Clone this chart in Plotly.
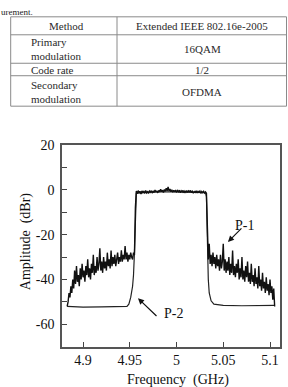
import plotly.graph_objects as go

W, H = 288, 387

# ---------------- data ----------------
f_start = 4.883
f_step = 0.001
p1_values = [
    -52, -50, -46, -48, -43, -46, -40, -44, -36, -42,
    -34, -41, -38, -43, -35, -40, -33, -39, -36, -41,
    -34, -38, -31, -39, -35, -40, -33, -37, -29, -38,
    -34, -37, -30, -36, -33, -26, -36, -32, -37, -30,
    -35, -32, -36, -28, -34, -31, -35, -27, -34, -30,
    -33, -29, -34, -31, -28, -33, -30, -32, -27, -32,
    -29, -31, -25, -31, -28, -32, -29, -31, -28, -30,
    -31, -28, -29, -8, -0.5, -1.6, -0.3, -1.2, -0.6, -1.8,
    -0.4, -1.1, -0.7, -1.5, -0.2, -1.3, -0.8, -1.6, -0.5, -1.0,
    -0.3, -1.4, -0.6, -1.2, 0.0, -1.0, -0.4, -1.3, -0.2, -0.9,
    0.3, -0.8, -0.1, -1.1, 0.2, -0.6, 0.8, -0.4, 1.4, -0.5,
    0.4, -0.8, 0.1, -1.0, -0.2, -0.9, 0.0, -1.1, -0.3, -0.8,
    -0.1, -1.2, -0.4, -0.9, -0.2, -1.3, -0.5, -1.0, -0.3, -1.1,
    -0.4, -0.8, -0.2, -1.2, -0.6, -1.4, -0.7, -1.1, -0.4, -1.3,
    -0.6, -1.0, -0.5, -1.5, -0.7, -1.2, -0.6, -1.4, -0.9, -1.5,
    -24, -31, -24, -33, -29, -34, -28, -33, -30, -35,
    -29, -34, -31, -36, -29, -35, -32, -24, -36, -31,
    -37, -32, -36, -30, -38, -33, -37, -27, -38, -34,
    -39, -33, -37, -31, -40, -35, -39, -30, -40, -36,
    -41, -34, -39, -32, -41, -37, -42, -33, -41, -38,
    -43, -35, -42, -39, -44, -34, -43, -40, -45, -37,
    -44, -41, -46, -39, -45, -42, -47, -40, -46, -43,
    -49, -44, -52,
]
p1_freq = [round(f_start + i * f_step, 3) for i in range(len(p1_values))]

p2_freq = [4.883, 4.900, 4.920, 4.940, 4.947, 4.949, 4.951, 4.953, 4.954,
           4.955, 4.956, 4.957, 4.970, 4.990, 5.010, 5.031, 5.032, 5.033,
           5.034, 5.035, 5.037, 5.040, 5.050, 5.070, 5.090, 5.105]
p2_values = [-52, -52.3, -52.2, -52.3, -52, -51, -48, -43, -38,
             -28, -14, -1.5, -1.0, -0.8, -1.0, -1.2, -3, -25,
             -40, -46, -49.5, -51, -51.5, -51.7, -51.6, -51.5]

x_tick_vals = [4.9, 4.95, 5.0, 5.05, 5.1]
x_tick_text = ["4.9", "4.95", "5", "5.05", "5.1"]
y_tick_vals = [20, 0, -20, -40, -60]
y_tick_text = ["20", "0", "-20", "-40", "-60"]

table_header = ["Method", "Extended IEEE 802.16e-2005"]
table_params = ["Primary<br>modulation", "Code rate", "Secondary<br>modulation"]
table_values = ["16QAM", "1/2", "OFDMA"]

# ---------------- helpers ----------------
def px(x):
    return x / W

def py(y):
    return 1 - y / H

FONT = "'Liberation Serif', 'Times New Roman', Times, serif"
LINE = "#222222"

fig = go.Figure()
fig.add_trace(go.Scatter(x=p2_freq, y=p2_values, mode="lines",
                         line=dict(color=LINE, width=1.2), showlegend=False))
fig.add_trace(go.Scatter(x=p1_freq, y=p1_values, mode="lines",
                         line=dict(color="#111111", width=1.4), showlegend=False))

# plot area
x0p, x1p, y0p, y1p = 62, 280, 140.7, 346

axis_common = dict(showline=True, mirror=True, linecolor="#555555", linewidth=1.5,
                   ticks="inside", ticklen=5, tickcolor="#444444", tickwidth=1,
                   showgrid=False, zeroline=False,
                   tickfont=dict(family=FONT, size=14, color="#111111"))

fig.update_xaxes(range=[4.8775, 5.1107], domain=[px(x0p), px(x1p)],
                 tickvals=x_tick_vals, ticktext=x_tick_text, **axis_common)
fig.update_yaxes(range=[-70, 20], domain=[py(y1p), py(y0p)],
                 tickvals=y_tick_vals, ticktext=y_tick_text,
                 minor=dict(tickvals=[10, -10, -30, -50], ticks="inside", ticklen=5,
                            tickcolor="#444444"),
                 ticklabelstandoff=3, **axis_common)

annotations = []
# axis titles
annotations.append(dict(text="Frequency\u00a0 (GHz)", x=px(178), y=py(380), xref="paper", yref="paper",
                        showarrow=False, xanchor="center", yanchor="middle",
                        font=dict(family=FONT, size=14, color="#111111")))
annotations.append(dict(text="Amplitude\u00a0 (dBr)", x=px(26), y=py(238.5), xref="paper", yref="paper",
                        showarrow=False, textangle=-90, xanchor="center", yanchor="middle",
                        font=dict(family=FONT, size=14, color="#111111")))
# P labels and arrows
annotations.append(dict(text="P-1", x=px(256), y=py(222.5), xref="paper", yref="paper",
                        showarrow=False, font=dict(family=FONT, size=14, color="#111111")))
annotations.append(dict(text="", x=5.055, y=-23.2, xref="x", yref="y", ax=15, ay=-15,
                        showarrow=True, arrowhead=2, arrowsize=1, arrowwidth=1.2,
                        arrowcolor="#111111"))
annotations.append(dict(text="P-2", x=px(173), y=py(322), xref="paper", yref="paper",
                        showarrow=False, font=dict(family=FONT, size=14, color="#111111")))
annotations.append(dict(text="", x=4.9588, y=-48.4, xref="x", yref="y", ax=20, ay=19,
                        showarrow=True, arrowhead=2, arrowsize=1, arrowwidth=1.2,
                        arrowcolor="#111111"))

# text fragment at the top
annotations.append(dict(text="urement.", x=px(0), y=py(-1), xref="paper", yref="paper",
                        showarrow=False, xanchor="left", yanchor="top", borderpad=0,
                        font=dict(family=FONT, size=9, color="#222222")))

# table
tx0, tx1, tcol = 10.7, 286.5, 117
row_lines = [10, 28.3, 57.3, 70, 101]
shapes = []
TCOL = "#8a8a8a"
for yl in row_lines:
    shapes.append(dict(type="line", xref="paper", yref="paper", x0=px(tx0), x1=px(tx1),
                       y0=py(yl), y1=py(yl), line=dict(color=TCOL, width=1)))
for xl in [tx0, tcol, tx1]:
    shapes.append(dict(type="line", xref="paper", yref="paper", x0=px(xl), x1=px(xl),
                       y0=py(row_lines[0]), y1=py(row_lines[-1]), line=dict(color=TCOL, width=1)))

tfont = dict(family=FONT, size=11, color="#2a2a2a")
annotations.append(dict(text=table_header[0], x=px(66), y=py(19), xref="paper", yref="paper",
                        showarrow=False, xanchor="center", yanchor="middle", font=tfont))
annotations.append(dict(text=table_header[1], x=px(202), y=py(19), xref="paper", yref="paper",
                        showarrow=False, xanchor="center", yanchor="middle", font=tfont))
row_centers = [43, 64, 87]
for i in range(3):
    annotations.append(dict(text=table_params[i], x=px(28.5), y=py(row_centers[i]), xref="paper",
                            yref="paper", showarrow=False, xanchor="left", yanchor="middle",
                            align="left", font=tfont))
    annotations.append(dict(text=table_values[i], x=px(202), y=py(row_centers[i]), xref="paper",
                            yref="paper", showarrow=False, xanchor="center", yanchor="middle",
                            font=tfont))

fig.update_layout(width=W, height=H, margin=dict(l=0, r=0, t=0, b=0),
                  paper_bgcolor="white", plot_bgcolor="white",
                  font=dict(family=FONT),
                  annotations=annotations, shapes=shapes, showlegend=False)

fig.write_html("out.html", config={"displayModeBar": False})
